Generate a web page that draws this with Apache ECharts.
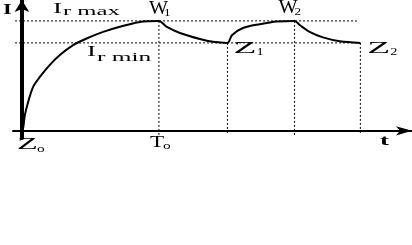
<!DOCTYPE html>
<html>
<head>
<meta charset="utf-8">
<script src="https://cdn.jsdelivr.net/npm/echarts@6/dist/echarts.min.js"></script>
<style>html,body{margin:0;padding:0;background:#fff}#c{width:412px;height:245px}</style>
</head>
<body>
<div id="c"></div>
<script>
// ---- data (time in arbitrary units, current normalised to Ir max = 1) ----
const irMax = 1.0;
const irMin = 0.8;
const curveT = [0, 0.09, 0.22, 0.46, 0.82, 1.31, 2.04, 2.77, 3.74, 4.72, 5.93, 7.15, 8.61, 9.3, 10.0,
                10.58, 11.53, 12.99, 13.94, 15.0,
                15.33, 16.13, 17.37, 18.61, 19.9,
                20.3, 21.0, 21.97, 23.2, 24.7];
const curveI = [0, 0.026, 0.145, 0.265, 0.40, 0.49, 0.60, 0.69, 0.78, 0.84, 0.90, 0.947, 0.99, 0.997, 1.0,
                0.945, 0.89, 0.835, 0.81, 0.80,
                0.87, 0.935, 0.97, 0.995, 1.0,
                0.96, 0.90, 0.85, 0.815, 0.80];
const keyTimes = [10.0, 15.0, 19.9, 24.7];
const keyLevels = [1.0, 0.8, 1.0, 0.8];
const xMin = -0.65, xMax = 28.47, yMin = -0.065, yMax = 1.19;
const refStartT = -0.5;
const refEndT = [24.45, 24.7];
const vBottom = -0.037;

const chart = echarts.init(document.getElementById('c'), null, {renderer: 'canvas'});
const dot = {color: '#000', width: 1, type: [2, 2]};
const series = [];
// horizontal reference levels
[irMax, irMin].forEach((lv, i) => {
  series.push({type: 'line', data: [[refStartT, lv], [refEndT[i], lv]], symbol: 'none',
    lineStyle: dot, silent: true, z: 2});
});
// vertical reference lines
keyTimes.forEach((t, i) => {
  series.push({type: 'line', data: [[t, keyLevels[i]], [t, vBottom]], symbol: 'none',
    lineStyle: dot, silent: true, z: 2});
});
// the current curve
series.push({type: 'line', data: curveT.map((t, i) => [t, curveI[i]]), symbol: 'none',
  smooth: 0.3, lineStyle: {color: '#000', width: 2}, z: 5});

chart.setOption({
  animation: false,
  grid: {left: 13, right: 0, top: 0, bottom: 107, containLabel: false},
  xAxis: {type: 'value', min: xMin, max: xMax,
    axisLine: {show: true, onZero: true, symbol: ['none', 'arrow'], symbolSize: [7, 16],
      lineStyle: {color: '#000', width: 2}},
    axisTick: {show: false}, axisLabel: {show: false}, splitLine: {show: false}},
  yAxis: {type: 'value', min: yMin, max: yMax,
    axisLine: {show: true, onZero: true, symbol: ['none', 'arrow'], symbolSize: [11, 12],
      lineStyle: {color: '#000', width: 4}},
    axisTick: {show: false}, axisLabel: {show: false}, splitLine: {show: false}},
  series: series
});

// ---- labels, anchored to data points with pixel offsets ----
const FONT = '"Liberation Serif", "DejaVu Serif", serif';
// [anchorT, anchorI, dx(left), dy(baseline), text, size, scaleX, bold]
const labels = [
  [0, yMax, -19, 15, 'I', 15, 1.5, true],
  [0, irMax, 31, -7, 'I', 15, 1.8, false],
  [0, irMax, 41, -5, 'r max', 13, 1.9, false],
  [0, irMin, 65, 14, 'I', 15, 1.8, false],
  [0, irMin, 75, 19, 'r min', 13, 1.95, false],
  [keyTimes[0], keyLevels[0], -10, -6, 'W', 18, 1.12, false],
  [keyTimes[0], keyLevels[0], 5, -4, '1', 11, 1.2, false],
  [keyTimes[2], keyLevels[2], -16, -7, 'W', 18, 1.12, false],
  [keyTimes[2], keyLevels[2], 0, -5, '2', 11, 1.2, false],
  [keyTimes[1], keyLevels[1], 6, 11, 'Z', 17, 2.2, false],
  [keyTimes[1], keyLevels[1], 29, 13, '1', 11, 1.3, false],
  [keyTimes[3], keyLevels[3], 7, 11, 'Z', 17, 2.2, false],
  [keyTimes[3], keyLevels[3], 30, 13, '2', 11, 1.3, false],
  [0, 0, -5, 19, 'Z', 17, 2.0, false],
  [0, 0, 15, 22, 'o', 11, 1.4, false],
  [keyTimes[0], 0, -9, 17, 'T', 16, 1.45, false],
  [keyTimes[0], 0, 4, 19, 'o', 11, 1.4, false],
  [xMax, 0, -32, 15, 't', 15, 1.8, true]
];
const elements = labels.map(l => {
  const p = chart.convertToPixel({gridIndex: 0}, [l[0], l[1]]);
  const size = l[5];
  return {
    type: 'text', x: p[0] + l[2], y: p[1] + l[3] - 0.32 * size, scaleX: l[6],
    style: {text: l[4], font: (l[7] ? 'bold ' : '') + size + 'px ' + FONT,
      fill: '#000', align: 'left', verticalAlign: 'middle'},
    silent: true, z: 10
  };
});
chart.setOption({graphic: {elements: elements}});
</script>
</body>
</html>
